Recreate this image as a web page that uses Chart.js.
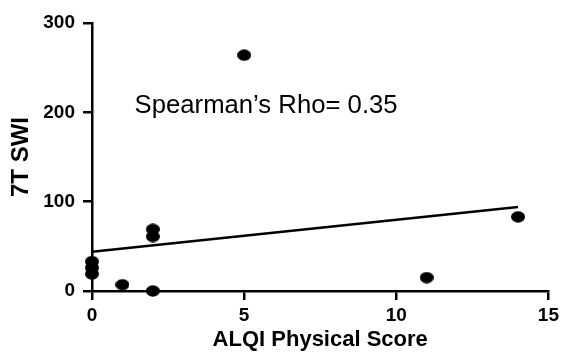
<!DOCTYPE html>
<html>
<head>
<meta charset="utf-8">
<script src="https://cdn.jsdelivr.net/npm/chart.js@4"></script>
<style>
  html, body { margin: 0; padding: 0; background: #fff; }
  #wrap { width: 563px; height: 354px; }
</style>
</head>
<body>
<div id="wrap"><canvas id="c" width="563" height="354"></canvas></div>
<script>
// Data
const alqiPhysical = [0, 0, 0, 1, 2, 2, 2, 5, 11, 14];
const swi7T        = [33, 26, 19, 7, 0, 69, 61, 264, 15, 83];
const fitX = [0, 14];
const fitY = [44, 94];
const xTicks = [0, 5, 10, 15];
const yTicks = [0, 100, 200, 300];
const annotationText = "Spearman\u2019s Rho= 0.35";
const annotationAt = { x: 1.4, y: 199 };

// ellipse marker
const dot = document.createElement('canvas');
dot.width = 14; dot.height = 12;
(function () {
  const g = dot.getContext('2d');
  g.fillStyle = '#000';
  g.beginPath();
  g.ellipse(7, 6, 7, 5.7, 0, 0, Math.PI * 2);
  g.fill();
})();

const scatterPts = alqiPhysical.map((x, i) => ({ x: x, y: swi7T[i] }));
const fitPts = fitX.map((x, i) => ({ x: x, y: fitY[i] }));

const TICK_LEN = 9;

const annotationPlugin = {
  id: 'rhoText',
  afterDatasetsDraw(chart) {
    const { ctx, scales } = chart;
    ctx.save();
    ctx.fillStyle = '#000';
    ctx.font = '25.7px "Liberation Sans", Arial, sans-serif';
    ctx.textAlign = 'left';
    ctx.textBaseline = 'alphabetic';
    ctx.fillText(annotationText, scales.x.getPixelForValue(annotationAt.x), scales.y.getPixelForValue(annotationAt.y));
    ctx.restore();
  }
};

const tickFont = { family: '"Liberation Sans", Arial, sans-serif', size: 19, weight: 'bold' };

new Chart(document.getElementById('c'), {
  type: 'scatter',
  data: {
    datasets: [
      {
        type: 'line',
        data: fitPts,
        borderColor: '#000',
        borderWidth: 2.5,
        pointRadius: 0,
        fill: false,
        clip: false,
        order: 2
      },
      {
        data: scatterPts,
        pointStyle: dot,
        backgroundColor: '#000',
        borderColor: '#000',
        clip: false,
        order: 1
      }
    ]
  },
  options: {
    responsive: false,
    animation: false,
    events: [],
    layout: { padding: { left: 0, right: 7, top: 23, bottom: 0 } },
    plugins: { legend: { display: false }, tooltip: { enabled: false } },
    scales: {
      x: {
        type: 'linear',
        min: xTicks[0], max: xTicks[xTicks.length - 1],
        afterBuildTicks(scale) { scale.ticks = xTicks.map(v => ({ value: v })); },
        afterFit(scale) { scale.height = 354 - 291; },
        border: { display: true, color: '#000', width: 2.5 },
        grid: { display: true, drawOnChartArea: false, drawTicks: true, tickLength: TICK_LEN, color: '#000', lineWidth: 2.5 },
        ticks: { color: '#000', font: tickFont, padding: 4, maxRotation: 0 },
        title: {
          display: true,
          text: 'ALQI Physical Score',
          color: '#000',
          font: { family: '"Liberation Sans", Arial, sans-serif', size: 22, weight: 'bold' },
          padding: { top: 0, bottom: 1 }
        }
      },
      y: {
        type: 'linear',
        min: yTicks[0], max: yTicks[yTicks.length - 1],
        afterBuildTicks(scale) { scale.ticks = yTicks.map(v => ({ value: v })); },
        afterFit(scale) { scale.width = 92; },
        border: { display: true, color: '#000', width: 2.5 },
        grid: { display: true, drawOnChartArea: false, drawTicks: true, tickLength: TICK_LEN, color: '#000', lineWidth: 2.5 },
        ticks: { color: '#000', font: tickFont, padding: 8 },
        title: {
          display: true,
          text: '7T SWI',
          color: '#000',
          font: { family: '"Liberation Sans", Arial, sans-serif', size: 24, weight: 'bold' },
          padding: { top: 7, bottom: 0 }
        }
      }
    }
  },
  plugins: [annotationPlugin]
});
</script>
</body>
</html>
